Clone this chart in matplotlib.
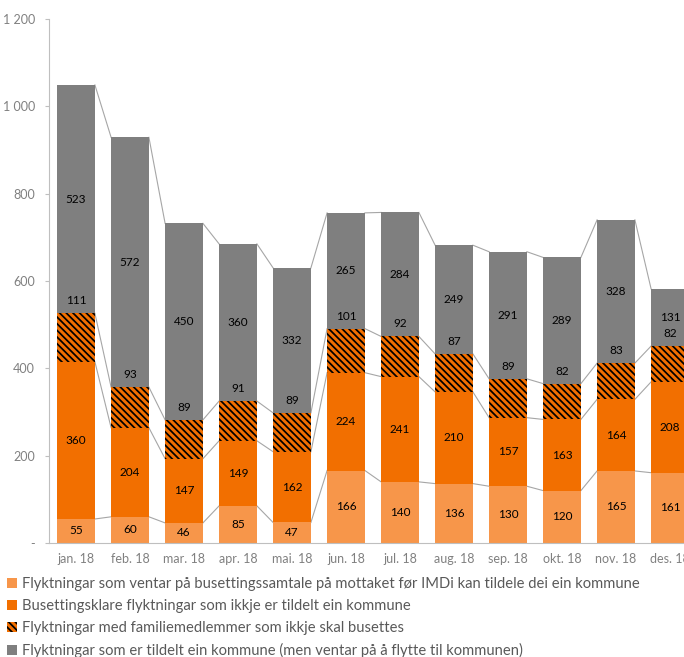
import numpy as np
import matplotlib.pyplot as plt
from matplotlib.patches import Patch
from matplotlib.ticker import FuncFormatter

plt.rcParams['font.family'] = ['Lato', 'DejaVu Sans']
plt.rcParams['hatch.linewidth'] = 1.25

# data
months = ['jan. 18', 'feb. 18', 'mar. 18', 'apr. 18', 'mai. 18', 'jun. 18',
          'jul. 18', 'aug. 18', 'sep. 18', 'okt. 18', 'nov. 18', 'des. 18']
venter_samtale = [55, 60, 46, 85, 47, 166, 140, 136, 130, 120, 165, 161]
busettingsklare = [360, 204, 147, 149, 162, 224, 241, 210, 157, 163, 164, 208]
familie = [111, 93, 89, 91, 89, 101, 92, 87, 89, 82, 83, 82]
tildelt = [523, 572, 450, 360, 332, 265, 284, 249, 291, 289, 328, 131]

labels = ['Flyktningar som ventar på busettingssamtale på mottaket før IMDi kan tildele dei ein kommune',
          'Busettingsklare flyktningar som ikkje er tildelt ein kommune',
          'Flyktningar med familiemedlemmer som ikkje skal busettes',
          'Flyktningar som er tildelt ein kommune (men ventar på å flytte til kommunen)']

c_light = '#F7964A'
c_orange = '#F26F00'
c_gray = '#7F7F7F'
txt_gray = '#808080'
hatch = '\\' * 5

fig = plt.figure(figsize=(6.84, 6.57), dpi=100)
ax = fig.add_axes([49 / 684, 114 / 657, 12 * 54 / 684, 524 / 657])

x = np.arange(len(months))
w = 0.70
series = [venter_samtale, busettingsklare, familie, tildelt]
bottom = np.zeros(len(months))
levels = [bottom.copy()]
for i, vals in enumerate(series):
    vals = np.array(vals)
    if i == 2:
        ax.bar(x, vals, w, bottom=bottom, color=c_orange, edgecolor='black',
               linewidth=0, hatch=hatch, zorder=2)
    else:
        col = [c_light, c_orange, None, c_gray][i]
        ax.bar(x, vals, w, bottom=bottom, color=col, linewidth=0, zorder=2)
    for j in range(len(months)):
        if i == 2:
            # these labels sit just above the hatched part
            ax.annotate(str(vals[j]), (x[j], bottom[j] + vals[j]), xytext=(0, 9),
                        textcoords='offset points', ha='center', va='center',
                        fontsize=8.5, color='black', zorder=4)
        else:
            ax.text(x[j], bottom[j] + vals[j] / 2, str(vals[j]), ha='center',
                    va='center', fontsize=8.5, color='black', zorder=4)
    bottom = bottom + vals
    levels.append(bottom.copy())

# series lines between the bars
for lev in levels[1:]:
    for j in range(len(months) - 1):
        ax.plot([x[j] + w / 2, x[j + 1] - w / 2], [lev[j], lev[j + 1]],
                color='#A6A6A6', lw=0.8, zorder=1)

ax.set_xlim(-0.5, 11.5)
ax.set_ylim(0, 1200)
ax.set_yticks(range(0, 1201, 200))
ax.yaxis.set_major_formatter(FuncFormatter(
    lambda v, p: '-' if v == 0 else '{:,}'.format(int(v)).replace(',', ' ')))
ax.set_xticks(x)
ax.set_xticklabels(months)
ax.tick_params(axis='x', length=0, pad=7, labelsize=9, labelcolor=txt_gray)
ax.tick_params(axis='y', length=3, color='#BFBFBF', labelsize=9,
               labelcolor=txt_gray, pad=7)
for s in ['top', 'right']:
    ax.spines[s].set_visible(False)
ax.spines['left'].set_color('#BFBFBF')
ax.spines['bottom'].set_color('#BFBFBF')

handles = [Patch(facecolor=c_light), Patch(facecolor=c_orange),
           Patch(facecolor=c_orange, edgecolor='black', linewidth=0, hatch=hatch),
           Patch(facecolor=c_gray)]
fig.legend(handles, labels, loc='upper left', bbox_to_anchor=(7 / 684, 1 - 577 / 657),
           frameon=False, fontsize=10.6, labelcolor='#595959', handlelength=0.7,
           handleheight=0.7, handletextpad=0.3, labelspacing=0.55, borderaxespad=0,
           borderpad=0)

fig.savefig('out.png', dpi=100)
